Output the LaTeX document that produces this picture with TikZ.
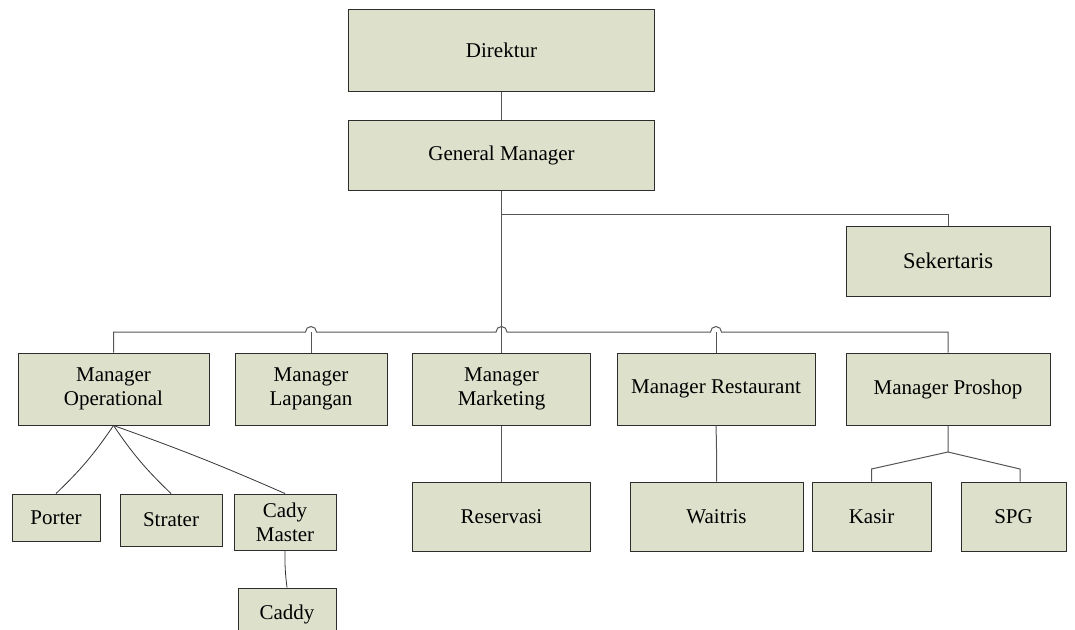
\documentclass[tikz,border=0pt]{standalone}
\usepackage{fontspec}
\setmainfont{Liberation Serif}
\definecolor{boxfill}{RGB}{221,225,204}
\definecolor{boxline}{RGB}{45,45,45}
\definecolor{conn}{RGB}{85,85,85}
\begin{document}
\begin{tikzpicture}[x=1pt,y=-1pt,
  box/.style={draw=boxline, fill=boxfill, line width=1pt, inner sep=0pt, align=center,
    font=\fontsize{21}{24}\selectfont},
  link/.style={draw=conn, line width=1pt},
  slink/.style={draw=black!80, line width=0.8pt}]
\useasboundingbox (0,0) rectangle (1075,629);
\begin{scope}
\clip (0,0) rectangle (1075,629);
% nodes
\node[box, minimum width=306pt, minimum height=82pt] (dir) at (501.5,50) {Direktur};
\node[box, minimum width=306pt, minimum height=70pt] (gm) at (501.5,155) {General Manager};
\node[box, minimum width=204pt, minimum height=70pt, font=\fontsize{22.5}{25}\selectfont] (sek) at (948,261) {Sekertaris};
\node[box, minimum width=191pt, minimum height=72pt] (op) at (113.5,389) {Manager\\Operational};
\node[box, minimum width=152pt, minimum height=72pt] (lap) at (311,389) {Manager\\Lapangan};
\node[box, minimum width=178pt, minimum height=72pt] (mkt) at (501.5,389) {Manager\\Marketing};
\node[box, minimum width=198pt, minimum height=72pt] (rest) at (716,389) {Manager Restaurant};
\node[box, minimum width=204pt, minimum height=72pt] (pro) at (948,389) {Manager Proshop};
\node[box, minimum width=88pt, minimum height=47pt] (porter) at (56,517.5) {Porter};
\node[box, minimum width=102pt, minimum height=52pt] (strater) at (171,520) {Strater};
\node[box, minimum width=102pt, minimum height=56pt] (cady) at (285,522) {Cady\\Master};
\node[box, minimum width=98pt, minimum height=52pt] (caddy) at (287,614) {Caddy};
\node[box, minimum width=178pt, minimum height=69pt] (res) at (501.5,516.5) {Reservasi};
\node[box, minimum width=173pt, minimum height=69pt] (wait) at (716.5,516.5) {Waitris};
\node[box, minimum width=119pt, minimum height=69pt] (kasir) at (871.5,516.5) {Kasir};
\node[box, minimum width=105pt, minimum height=69pt] (spg) at (1013.5,516.5) {SPG};
% coordinates
\coordinate (bus) at (501.5,332);
\coordinate (sekj) at (501.5,214);
\coordinate (proj) at (948,452);
\coordinate (kasj) at (871.5,469);
\coordinate (spgj) at (1020,469);
% connectors
\draw[link] (dir.south) -- (gm.north);
\draw[link] (gm.south) -- (mkt.north);
\draw[link] (sekj) -| (sek.north);
\draw[link] (op.north) -- (op.north |- bus)
  -- (305.5,332) arc[start angle=180,end angle=0,radius=5.5pt]
  -- (496,332) arc[start angle=180,end angle=0,radius=5.5pt]
  -- (710.5,332) arc[start angle=180,end angle=0,radius=5.5pt]
  -- (pro.north |- bus) -- (pro.north);
\draw[link] (lap.north |- bus) -- (lap.north);
\draw[link] (rest.north |- bus) -- (rest.north);
\draw[link] (mkt.south) -- (res.north);
\draw[link] (rest.south) to[bend left=1] (wait.north);
\draw[link] (pro.south) -- (proj) -- (kasj) -- (kasir.north);
\draw[link] (proj) -- (spgj) -- (spgj |- spg.north);
\draw[slink] (op.south) to[bend left=6] (porter.north);
\draw[slink] (op.south) to[bend right=6] (strater.north);
\draw[slink] (op.south) to[bend left=2] (cady.north);
\draw[slink] (cady.south) to[bend right=4] (caddy.north);
\end{scope}
\end{tikzpicture}
\end{document}
